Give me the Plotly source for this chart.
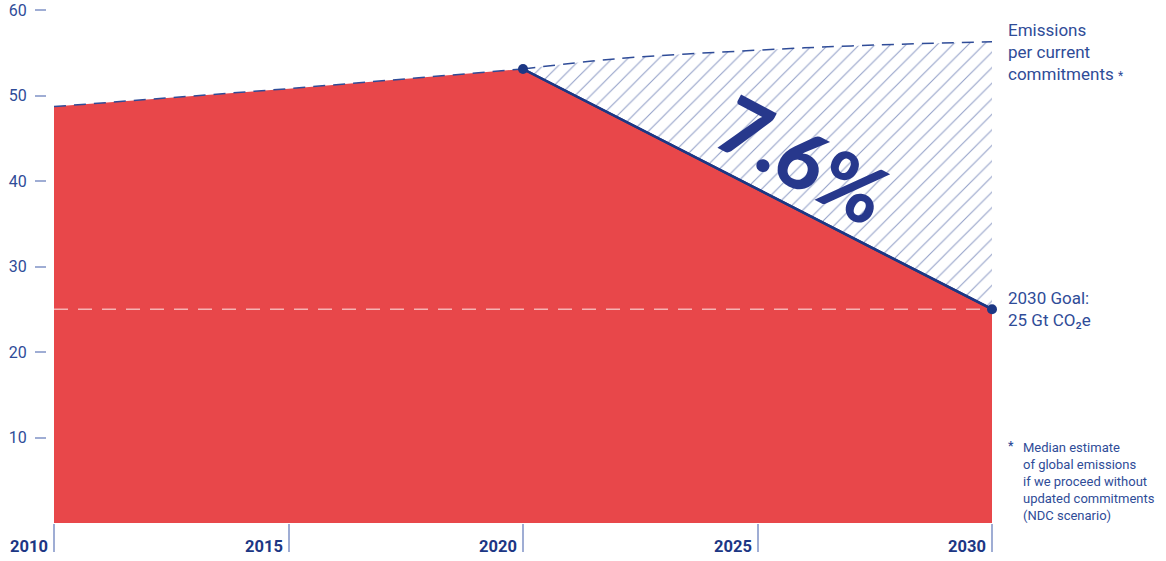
import plotly.graph_objects as go

# ---- data ----
hist_years = [2010, 2015, 2020]
hist_values = [48.7, 50.8, 53.1]
goal_years = [2020, 2030]
goal_values = [53.1, 25.0]
ndc_years = [2020, 2022, 2025, 2027, 2030]
ndc_values = [53.1, 54.3, 55.3, 55.8, 56.3]
goal_line_value = 25
x_ticks = [2010, 2015, 2020, 2025, 2030]
y_ticks = [10, 20, 30, 40, 50, 60]
big_label = "7.6%"

W, H = 1166, 561
ML, MR, MT, MB = 0, 0, 10, 38
x0px, x1px = 54, 992

RED = "#e8474a"
NAVY = "#1c3784"
BLUE = "#2f4c98"
LIGHT = "#9fadd4"

fig = go.Figure()

# red area
fig.add_trace(go.Scatter(
    x=hist_years + goal_years[1:], y=hist_values + goal_values[1:],
    fill="tozeroy", fillcolor=RED, mode="lines", line=dict(width=0),
    hoverinfo="skip", showlegend=False))

# dashed goal level
fig.add_trace(go.Scatter(
    x=[x_ticks[0], x_ticks[-1]], y=[goal_line_value, goal_line_value],
    mode="lines", line=dict(color="#f6b3b3", width=1.5, dash="14px,10px"),
    hoverinfo="skip", showlegend=False))

# dashed historical line
fig.add_trace(go.Scatter(
    x=hist_years, y=hist_values, mode="lines",
    line=dict(color=BLUE, width=1.5, dash="12px,8px"),
    hoverinfo="skip", showlegend=False))

# goal path (base for hatch)
fig.add_trace(go.Scatter(
    x=goal_years, y=goal_values, mode="lines",
    line=dict(color=NAVY, width=2.5),
    hoverinfo="skip", showlegend=False))

# NDC hatch
fig.add_trace(go.Scatter(
    x=ndc_years, y=ndc_values, mode="lines", fill="tonexty",
    fillcolor="rgba(255,255,255,0)",
    fillpattern=dict(shape="/", size=11, solidity=0.1, fgcolor="#2a4392",
                     bgcolor="rgba(255,255,255,0)", fillmode="overlay"),
    line=dict(color=BLUE, width=1.5, dash="12px,8px", shape="spline"),
    hoverinfo="skip", showlegend=False))

# goal path line on top + markers
fig.add_trace(go.Scatter(
    x=goal_years, y=goal_values, mode="lines+markers",
    line=dict(color=NAVY, width=2.5),
    marker=dict(color=NAVY, size=10), cliponaxis=False,
    hoverinfo="skip", showlegend=False))

plot_w = W - ML - MR
dom = [(x0px - ML) / plot_w, (x1px - ML) / plot_w]

fig.update_layout(
    width=W, height=H,
    margin=dict(l=ML, r=MR, t=MT, b=MB),
    paper_bgcolor="white", plot_bgcolor="white",
    font=dict(family="Roboto", color=BLUE),
    xaxis=dict(domain=dom, range=[x_ticks[0], x_ticks[-1]],
               tickvals=x_ticks, showticklabels=False,
               ticks="outside", ticklen=28, tickwidth=1.5, tickcolor=LIGHT,
               showgrid=False, zeroline=False, showline=False),
    yaxis=dict(range=[0, 60], tickvals=y_ticks,
               anchor="free", position=(46 - ML) / plot_w,
               ticks="outside", ticklen=11, tickwidth=1.5, tickcolor=LIGHT,
               ticklabelstandoff=5, ticklabeloverflow="allow",
               tickfont=dict(size=16, color=BLUE, family="Roboto"),
               showgrid=False, zeroline=False, showline=False),
)

# x tick labels (right-aligned before tick marks)
for yr in x_ticks:
    fig.add_annotation(x=yr, y=0, xref="x", yref="paper", text=f"<b>{yr}</b>",
                       showarrow=False, xanchor="right", yanchor="middle",
                       xshift=-4, yshift=-23,
                       font=dict(size=16.5, color=NAVY, family="Roboto"))

# big label
fig.add_annotation(x=2026.0, y=42.6, xref="x", yref="y", text=big_label,
                   showarrow=False, textangle=28,
                   font=dict(size=80, color="#27388c", family="Lato", weight=900))

# right annotations
fig.add_annotation(x=x_ticks[-1], y=55.1, xref="x", yref="y",
                   text="Emissions<br>per current<br>commitments <span style='font-size:12px'>*</span>",
                   showarrow=False, xanchor="left", yanchor="middle", align="left",
                   xshift=14, font=dict(size=17, color=BLUE, family="Roboto"))
fig.add_annotation(x=x_ticks[-1], y=goal_line_value, xref="x", yref="y",
                   text="2030 Goal:<br>25 Gt CO₂e",
                   showarrow=False, xanchor="left", yanchor="middle", align="left",
                   xshift=14, font=dict(size=17, color=BLUE, family="Roboto"))
fig.add_annotation(x=x_ticks[-1], y=4.9, xref="x", yref="y",
                   text="Median estimate<br>of global emissions<br>if we proceed without<br>updated commitments<br>(NDC scenario)",
                   showarrow=False, xanchor="left", yanchor="middle", align="left",
                   xshift=29, font=dict(size=13, color=BLUE, family="Roboto"))
fig.add_annotation(x=x_ticks[-1], y=9.0, xref="x", yref="y", text="<b>*</b>",
                   showarrow=False, xanchor="left", yanchor="middle",
                   xshift=14, font=dict(size=12, color=BLUE, family="Roboto"))

fig.write_html("out.html", config={"displayModeBar": False},
               post_script="document.body.style.margin='0';")
